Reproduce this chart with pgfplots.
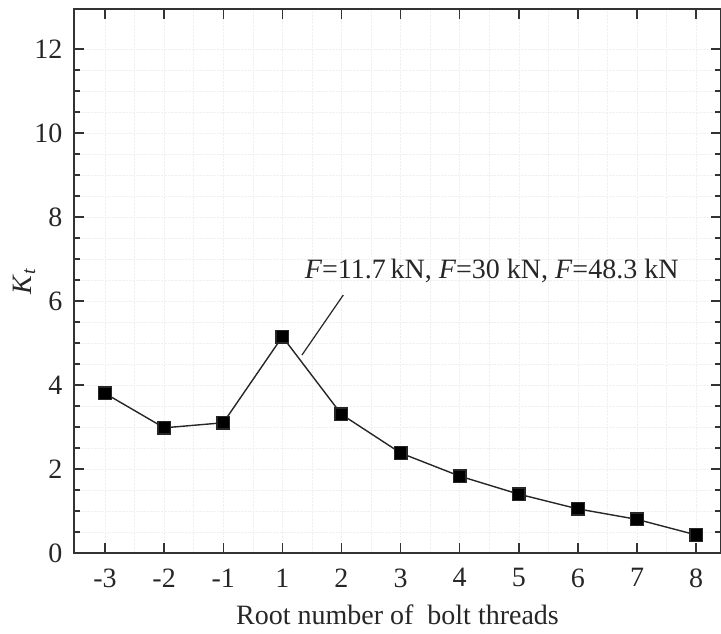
\documentclass[border=0pt]{standalone}
\usepackage{pgfplots}
\pgfplotsset{compat=1.18}
\usepackage{fontspec}
\setmainfont{Liberation Serif}
\begin{document}
\begin{tikzpicture}
\begin{axis}[
  at={(0pt,0pt)}, anchor=south west,
  scale only axis, width=647pt, height=544pt,
  xmin=-0.525, xmax=10.42, ymin=0, ymax=12.95,
  xtick={0,...,10},
  xticklabels={-3,-2,-1,1,2,3,4,5,6,7,8},
  ytick={0,2,...,12},
  minor y tick num=3,
  minor x tick num=1,
  minor x tick style={draw=none},
  tick align=inside,
  major tick length=10pt,
  minor tick length=6pt,
  every tick/.style={line width=1.4pt, black!80},
  axis line style={line width=1.6pt, black!80},
  grid=both,
  major grid style={black!6, densely dotted, line width=0.6pt},
  minor grid style={black!6, densely dotted, line width=0.6pt},
  /pgf/number format/assume math mode=true,
  tick label style={font=\fontsize{28}{32}\selectfont, text=black!85},
  xticklabel style={yshift=-12pt},
  yticklabel style={xshift=-8pt},
  xlabel={Root number of\ \ bolt threads},
  ylabel={\textit{K}\textsubscript{\textit{t}}},
  label style={font=\fontsize{28}{32}\selectfont, text=black!85},
  xlabel style={yshift=-10pt},
  ylabel style={at={(axis description cs:-0.077,0.5)}, anchor=center},
]
\addplot[black!85, line width=1.4pt, mark=square*, mark size=6.3pt, mark options={solid, fill=black}]
  coordinates {(0,3.80) (1,2.98) (2,3.10) (3,5.15) (4,3.30) (5,2.38) (6,1.83) (7,1.40) (8,1.05) (9,0.80) (10,0.43)};
\draw[black!85, line width=1.2pt] (axis cs:4.03,6.14) -- (axis cs:3.33,4.71);
\node[font=\fontsize{28}{32}\selectfont, text=black!85] at (axis cs:6.54,6.71)
  {\textit{F}=11.7\,kN, \textit{F}=30 kN, \textit{F}=48.3 kN};
\end{axis}
\pgfresetboundingbox
\path (-74pt,-81pt) rectangle (647pt,553pt);
\end{tikzpicture}
\end{document}
